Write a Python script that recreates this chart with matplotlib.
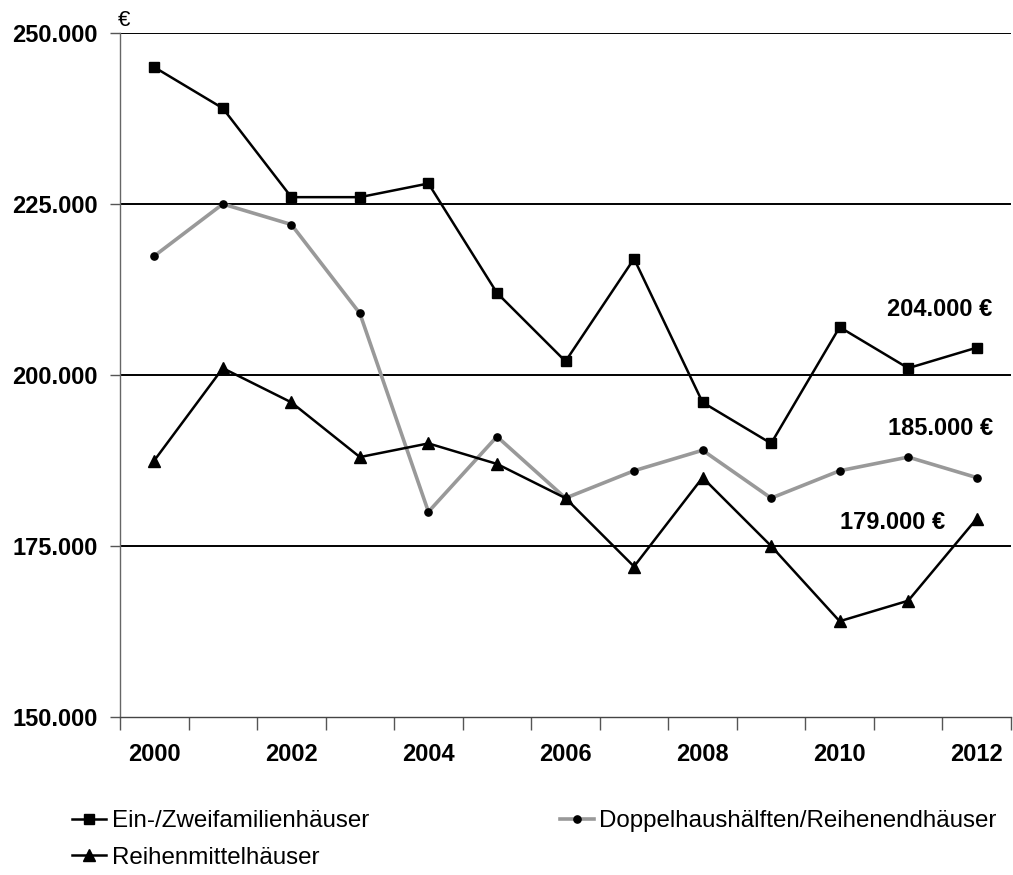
import matplotlib
matplotlib.use("Agg")
import matplotlib.pyplot as plt
from matplotlib.ticker import FixedLocator, FuncFormatter

plt.rcParams['font.family'] = ['Liberation Sans', 'DejaVu Sans']

years = list(range(2000, 2013))
ein_zwei = [245000, 239000, 226000, 226000, 228000, 212000, 202000, 217000,
            196000, 190000, 207000, 201000, 204000]
doppel = [217400, 225000, 222000, 209000, 180000, 191000, 182000, 186000,
          189000, 182000, 186000, 188000, 185000]
reihen = [187500, 201000, 196000, 188000, 190000, 187000, 182000, 172000,
          185000, 175000, 164000, 167000, 179000]
labels = ["Ein-/Zweifamilienhäuser", "Doppelhaushälften/Reihenendhäuser",
          "Reihenmittelhäuser"]
end_labels = ["204.000 €", "185.000 €", "179.000 €"]
y_ticks = [150000, 175000, 200000, 225000, 250000]

fig = plt.figure(figsize=(10.13, 8.75), dpi=100)
ax = fig.add_axes([120/1013, 1-717/875, 891/1013, (717-33)/875])

x = list(range(len(years)))
l1, = ax.plot(x, ein_zwei, color='black', lw=1.8, marker='s', ms=7.5, zorder=5,
              label=labels[0])
l2, = ax.plot(x, doppel, color='#999999', lw=2.6, marker='o', ms=5.2,
              markerfacecolor='black', markeredgecolor='black', zorder=4,
              label=labels[1])
l3, = ax.plot(x, reihen, color='black', lw=1.8, marker='^', ms=8.5, zorder=5,
              label=labels[2])

ax.set_xlim(-0.5, len(years) - 0.5)
ax.set_ylim(150000, 250000)

for yv in y_ticks[1:]:
    ax.axhline(yv, color='black', lw=1.4, zorder=1)

ax.yaxis.set_major_locator(FixedLocator(y_ticks))
ax.yaxis.set_major_formatter(FuncFormatter(lambda v, p: f"{int(v):,}".replace(",", ".")))
ax.tick_params(axis='y', length=7, width=1, color='#555555', pad=9,
               labelsize=17)
for t in ax.get_yticklabels():
    t.set_fontweight('bold')

ax.set_xticks([i for i in x if years[i] % 2 == 0])
ax.set_xticklabels([str(years[i]) for i in x if years[i] % 2 == 0],
                   fontweight='bold', fontsize=17)
ax.set_xticks([i - 0.5 for i in range(len(years) + 1)], minor=True)
ax.tick_params(axis='x', which='major', length=0, pad=19)
ax.tick_params(axis='x', which='minor', length=9, width=1, color='#555555')

for s in ['top', 'right']:
    ax.spines[s].set_visible(False)
ax.spines['left'].set_color('#666666')
ax.spines['bottom'].set_color('#444444')
ax.spines['left'].set_linewidth(1)
ax.spines['bottom'].set_linewidth(1)

ax.text(-0.53, 250300, "€", fontsize=16, ha='left', va='bottom')

ax.annotate(end_labels[0], (12, ein_zwei[-1]), xytext=(16, 38),
            textcoords='offset pixels', ha='right', va='center',
            fontsize=17, fontweight='bold')
ax.annotate(end_labels[1], (12, doppel[-1]), xytext=(16, 49),
            textcoords='offset pixels', ha='right', va='center',
            fontsize=17, fontweight='bold')
ax.annotate(end_labels[2], (12, reihen[-1]), xytext=(-32, -4),
            textcoords='offset pixels', ha='right', va='center',
            fontsize=17, fontweight='bold')

fig.legend(handles=[l1, l3, l2], loc='upper left',
           bbox_to_anchor=(72/1013, 1-810/875), ncol=2, frameon=False,
           fontsize=17.4, handlelength=1.42, handletextpad=0.22,
           columnspacing=7.9, labelspacing=0.6, borderaxespad=0,
           borderpad=0)

fig.savefig("out.png", dpi=100)
